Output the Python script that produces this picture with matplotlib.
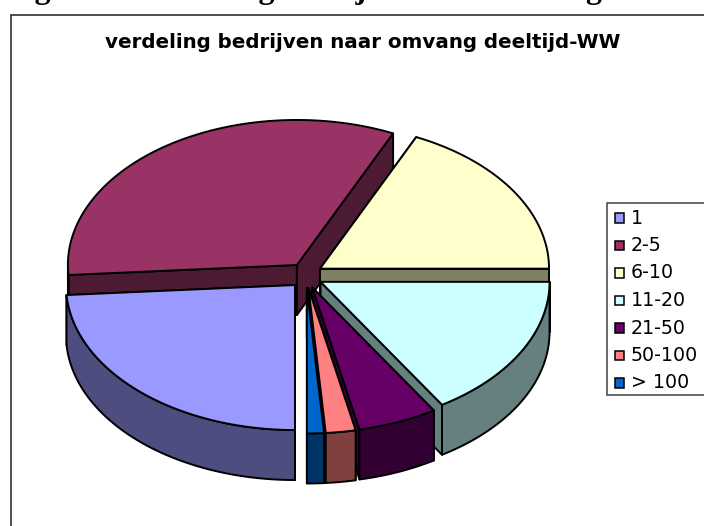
import matplotlib
matplotlib.use("Agg")
import matplotlib.pyplot as plt
from matplotlib.patches import Polygon, Rectangle
import numpy as np

# share of companies per size class (percent)
categories = ["1", "2-5", "6-10", "11-20", "21-50", "50-100", "> 100"]
shares = [23.9, 33.0, 18.1, 16.1, 5.6, 2.1, 1.2]
colors = ["#9999FF", "#993366", "#FFFFCC", "#CCFFFF", "#660066", "#FF8080", "#0066CC"]

caption = "Figuur 3: Verdeling bedrijven naar omvang"
title = "verdeling bedrijven naar omvang deeltijd-WW"

# pie geometry in pixels
CX, CY = 306.2, 275.6
RX, RY = 229.0, 145.0
DEPTH = 50.0
EXPLODE_X, EXPLODE_Y = 16.4, 12.9
START_ANGLE = 180.0
EDGE_LW = 1.4
# back to front, painter style
DRAW_ORDER = [1, 2, 3, 4, 5, 6, 0]


def rim(apex, angles):
    rad = np.radians(angles)
    return np.column_stack([apex[0] + RX * np.sin(rad), apex[1] - RY * np.cos(rad)])


def darker(color):
    rgb = np.array(matplotlib.colors.to_rgb(color))
    return tuple(rgb * 0.5)


def draw_slice(ax, start, end, color):
    mid = np.radians((start + end) / 2)
    apex = np.array([CX + EXPLODE_X * np.sin(mid), CY - EXPLODE_Y * np.cos(mid)])
    angles = np.linspace(start, end, 120)
    arc = rim(apex, angles)
    down = np.array([0, DEPTH])
    side = darker(color)

    # cut faces
    for edge in (arc[0], arc[-1]):
        face = [apex, edge, edge + down, apex + down]
        ax.add_patch(Polygon(face, closed=True, fc=side, ec="black", lw=EDGE_LW, joinstyle="round"))

    # outer wall, only the front half of the rim can be seen
    wrapped = angles % 360
    front = (wrapped >= 90) & (wrapped <= 270)
    if front.any():
        wall = arc[front]
        pts = np.vstack([wall, (wall + down)[::-1]])
        ax.add_patch(Polygon(pts, closed=True, fc=side, ec="black", lw=EDGE_LW, joinstyle="round"))

    # top
    ax.add_patch(Polygon(np.vstack([apex, arc]), closed=True, fc=color, ec="black", lw=EDGE_LW, joinstyle="round"))


def main() -> None:
    fig = plt.figure(figsize=(7.04, 5.26), dpi=100)
    ax = fig.add_axes([0, 0, 1, 1])
    ax.set_xlim(0, 704)
    ax.set_ylim(526, 0)
    ax.axis("off")

    # chart frame, runs off the right and bottom of the picture
    ax.add_patch(Rectangle((10.5, 15), 720, 540, fc="white", ec="#303030", lw=1.2))

    # caption above the frame, only its descenders are left after the crop
    ax.text(6, -2, caption, family="Liberation Serif", weight="bold", fontsize=23, va="baseline", ha="left")

    ax.text(363, 48, title, family="DejaVu Sans", weight="bold", fontsize=14.3, ha="center", va="baseline")

    sweep = np.array(shares) / sum(shares) * 360
    edges = START_ANGLE + np.concatenate([[0], np.cumsum(sweep)])
    for i in DRAW_ORDER:
        draw_slice(ax, edges[i], edges[i + 1], colors[i])

    # legend
    ax.add_patch(Rectangle((607, 203), 110, 192, fc="white", ec="#404040", lw=1.1))
    for i, label in enumerate(categories):
        y = 218 + i * 27.5
        ax.add_patch(Rectangle((614.5, y - 5), 9.5, 9.5, fc=colors[i], ec="black", lw=1.1))
        ax.text(631, y, label, family="DejaVu Sans", fontsize=13.7, ha="left", va="center")

    fig.savefig("out.png", dpi=100)
    plt.close(fig)


if __name__ == "__main__":
    main()
